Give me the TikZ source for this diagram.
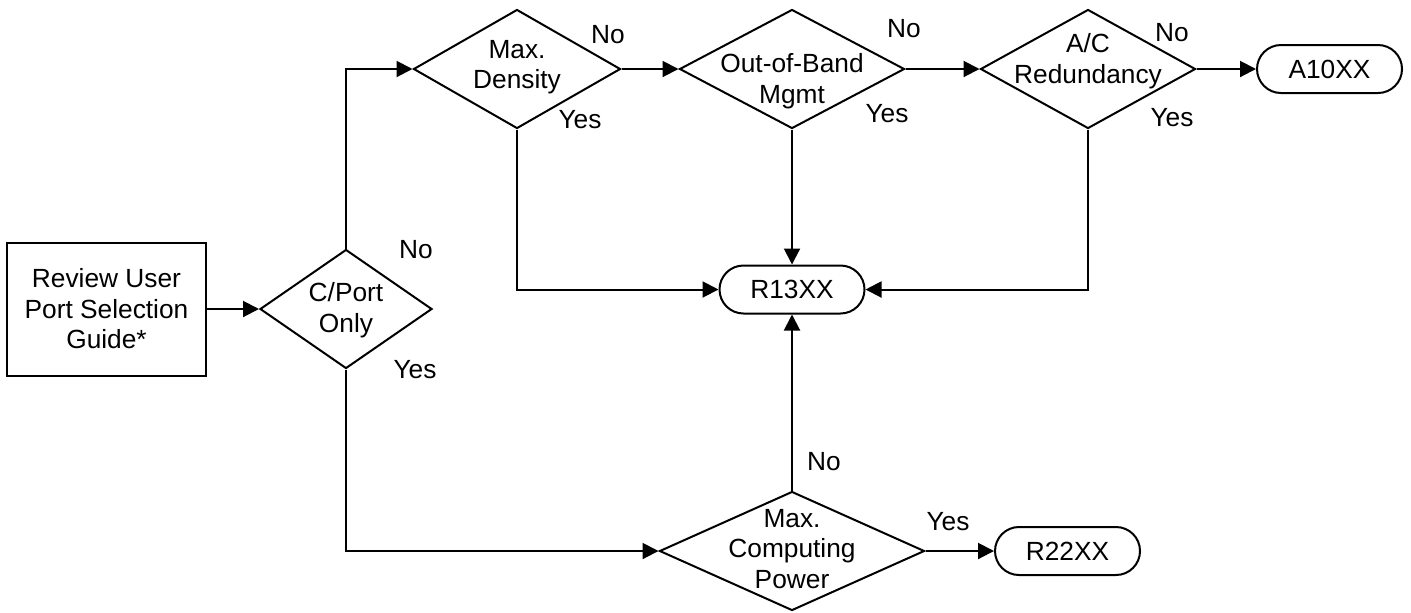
\documentclass[tikz,border=0pt]{standalone}
\usepackage{fontspec}
\setmainfont{Liberation Sans}
\usetikzlibrary{arrows.meta,shapes.geometric,shapes.misc}

\begin{document}
\begin{tikzpicture}[x=0.5pt,y=0.5pt,yscale=-1,xscale=1,line width=1pt,
  every node/.style={font=\fontsize{13.15}{15.25}\selectfont},
  dec/.style={draw, diamond, inner sep=0pt, minimum height=59.5pt},
  term/.style={draw, rounded rectangle, inner sep=0pt, minimum width=72.5pt, minimum height=24pt},
  txt/.style={align=center, inner sep=0pt},
  arr/.style={-{Triangle[length=8pt,width=8pt]}}]
\useasboundingbox (0,0) rectangle (1411,612);

%Start box
\draw (106.5,309) node [draw, align=center, inner sep=0pt, minimum width=99.5pt, minimum height=66.5pt] (guide) {Review User\\Port Selection\\Guide*};

%Decisions
\draw (346,309) node [dec, minimum width=86pt] (cport) {};
\draw (517,69) node [dec, minimum width=103.5pt] (dens) {};
\draw (792,69) node [dec, minimum width=112.5pt] (oob) {};
\draw (1088,69) node [dec, minimum width=107.5pt] (ac) {};
\draw (792,551) node [dec, minimum width=132.5pt] (comp) {};

%Decision texts
\draw (346,310) node [txt] (cportT) {C/Port\\Only};
\draw (517,67.4) node [txt] (densT) {Max.\\Density};
\draw (792,81) node [txt] (oobT) {Out-of-Band\\Mgmt};
\draw (1088,61) node [txt] (acT) {A/C\\Redundancy};
\draw (792,548.8) node [txt] (compT) {Max.\\Computing\\Power};

%Results
\draw (792,289.5) node [term] (r13) {R13XX};
\draw (1329.5,69) node [term] (a10) {A10XX};
\draw (1067.5,551) node [term] (r22) {R22XX};

%Connectors
\draw [arr] (guide.east) -- (cport.west);
\draw [arr] (cport.north) |- (dens.west);
\draw [arr] (cport.south) |- (comp.west);
\draw [arr] (dens.east) -- (oob.west);
\draw [arr] (oob.east) -- (ac.west);
\draw [arr] (ac.east) -- (a10.west);
\draw [arr] (dens.south) |- (r13.west);
\draw [arr] (oob.south) -- (r13.north);
\draw [arr] (ac.south) |- (r13.east);
\draw [arr] (comp.north) -- (r13.south);
\draw [arr] (comp.east) -- (r22.west);

%Yes / No
\draw (416,250) node [txt] (cportNo) {No};
\draw (415,370) node [txt] (cportYes) {Yes};
\draw (608,34.5) node [txt] (densNo) {No};
\draw (580,120) node [txt] (densYes) {Yes};
\draw (904,29) node [txt] (oobNo) {No};
\draw (887,114) node [txt] (oobYes) {Yes};
\draw (1172,33) node [txt] (acNo) {No};
\draw (1172,118) node [txt] (acYes) {Yes};
\draw (824,462) node [txt] (compNo) {No};
\draw (948,522) node [txt] (compYes) {Yes};

\end{tikzpicture}
\end{document}
